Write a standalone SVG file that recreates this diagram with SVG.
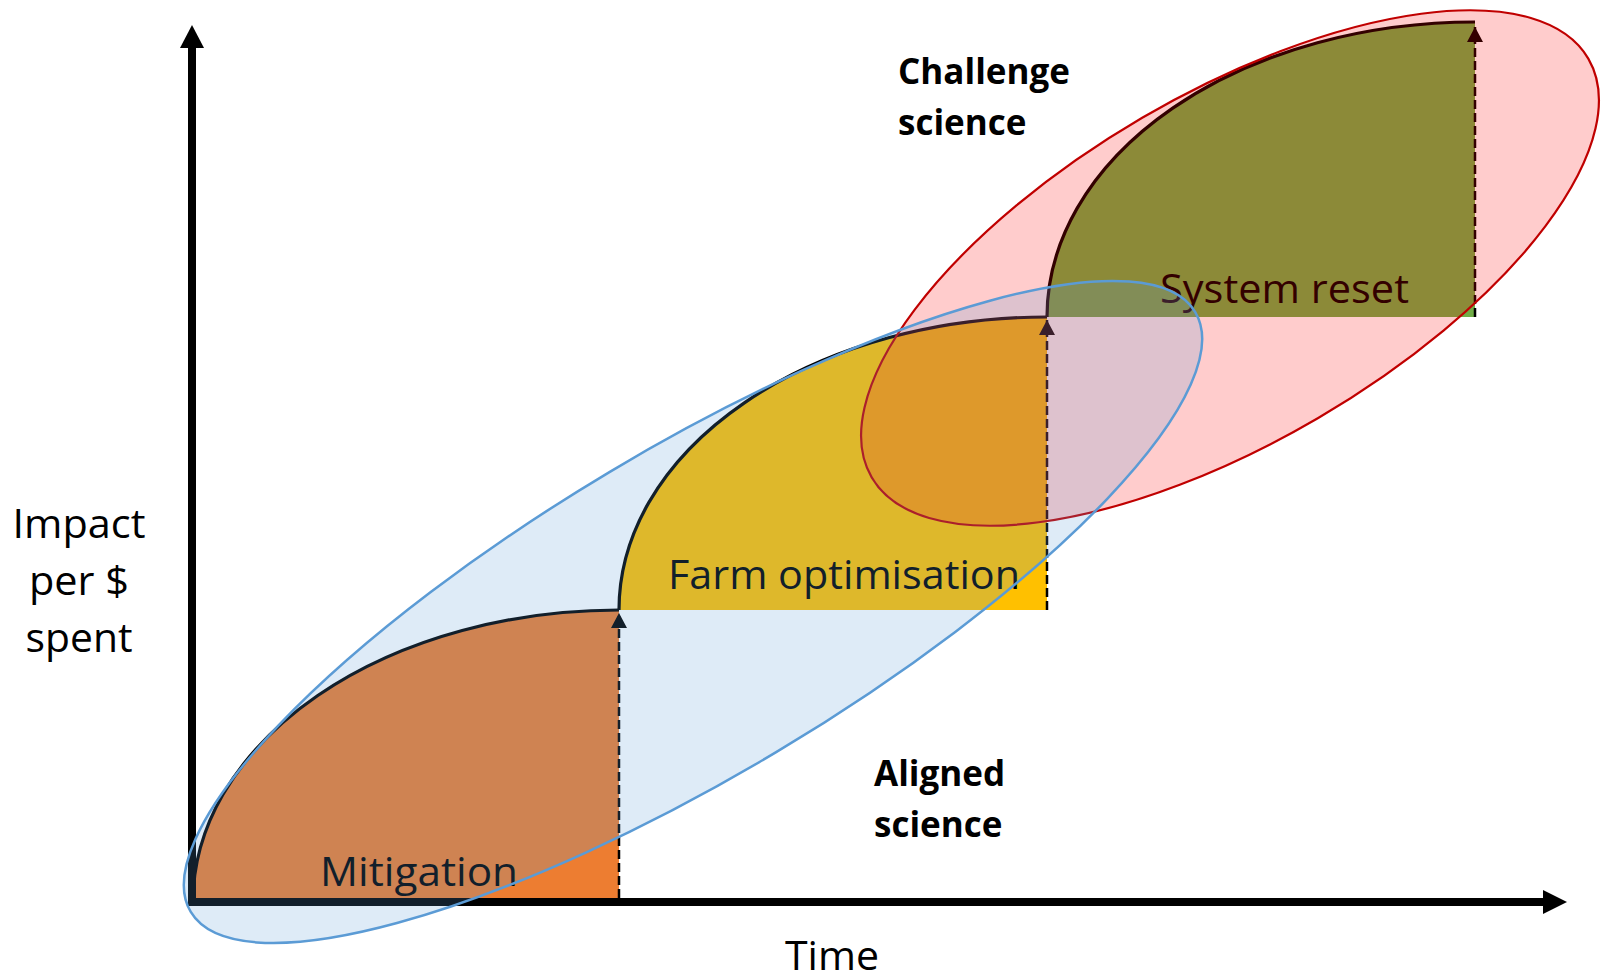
<svg xmlns="http://www.w3.org/2000/svg" width="1601" height="977" viewBox="0 0 1601 977">
<defs>
<style>
.lbl{font-family:"Open Sans","Noto Sans","Liberation Sans",sans-serif;font-size:41px;fill:#000}
.bold{font-family:"Open Sans","Noto Sans","Liberation Sans",sans-serif;font-size:35px;font-weight:bold;fill:#000}
.curve{fill:none;stroke:#000;stroke-width:3.2}
.dash{fill:none;stroke:#000;stroke-width:2.5;stroke-dasharray:9 4}
.axis{fill:none;stroke:#000;stroke-width:8}
</style>
<marker id="tri" viewBox="0 0 15 16" refX="15" refY="8" markerWidth="15" markerHeight="16" markerUnits="userSpaceOnUse" orient="auto">
<path d="M0,0 L15,8 L0,16 z" fill="#000"/>
</marker>
</defs>
<rect width="1601" height="977" fill="#fff"/>
<g id="mitigation">
<path d="M193,902 A426,292 0 0 1 619,610 L619,902 Z" fill="#ED7D31"/>
<path class="curve" d="M193,902 A426,292 0 0 1 619,610"/>
<text class="lbl" x="320" y="886" textLength="198" lengthAdjust="spacingAndGlyphs">Mitigation</text>
</g>
<g id="farm-optimisation">
<path d="M619,610 A428,293 0 0 1 1047,317 L1047,610 Z" fill="#FFC000"/>
<path class="curve" d="M619,610 A428,293 0 0 1 1047,317"/>
<text class="lbl" x="668" y="589" textLength="352" lengthAdjust="spacingAndGlyphs">Farm optimisation</text>
</g>
<g id="system-reset">
<path d="M1047,317 A428,295 0 0 1 1475,22 L1475,317 Z" fill="#70AD47"/>
<path class="curve" d="M1047,317 A428,295 0 0 1 1475,22"/>
<text class="lbl" x="1160" y="303" textLength="249" lengthAdjust="spacingAndGlyphs">System reset</text>
</g>
<g id="connectors">
<line class="dash" x1="619" y1="898" x2="619" y2="613" marker-end="url(#tri)"/>
<line class="dash" x1="1047" y1="610" x2="1047" y2="320" marker-end="url(#tri)"/>
<line class="dash" x1="1475" y1="317" x2="1475" y2="27" marker-end="url(#tri)"/>
</g>
<g id="axes">
<line class="axis" x1="192" y1="906" x2="192" y2="46"/>
<polygon points="180,48 192,25 204,48" fill="#000"/>
<line class="axis" x1="188" y1="902" x2="1545" y2="902"/>
<polygon points="1543,890 1567,902 1543,914" fill="#000"/>
</g>
<g id="y-label">
<text class="lbl" x="79" y="538" text-anchor="middle" textLength="133" lengthAdjust="spacingAndGlyphs">Impact</text>
<text class="lbl" x="79" y="595" text-anchor="middle" textLength="100" lengthAdjust="spacingAndGlyphs">per $</text>
<text class="lbl" x="79" y="652" text-anchor="middle" textLength="107" lengthAdjust="spacingAndGlyphs">spent</text>
</g>
<g id="x-label">
<text class="lbl" x="785" y="970" textLength="94" lengthAdjust="spacingAndGlyphs">Time</text>
</g>
<g id="challenge-science">
<ellipse cx="1230" cy="268" rx="415" ry="174" transform="rotate(-30.3 1230 268)" fill="#FF0000" fill-opacity="0.2" stroke="#C00000" stroke-width="2.2"/>
<text class="bold" x="898" y="84">Challenge</text>
<text class="bold" x="898" y="135">science</text>
</g>
<g id="aligned-science">
<ellipse cx="693" cy="612" rx="585" ry="163" transform="rotate(-30.85 693 612)" fill="#5B9BD5" fill-opacity="0.2" stroke="#5B9BD5" stroke-width="2.5"/>
<text class="bold" x="874" y="786">Aligned</text>
<text class="bold" x="874" y="837">science</text>
</g>
</svg>
